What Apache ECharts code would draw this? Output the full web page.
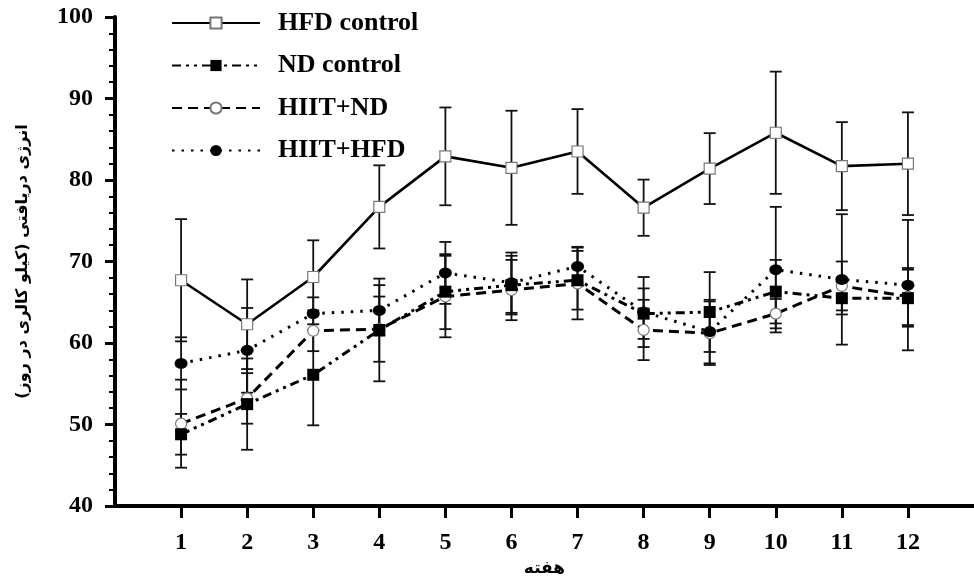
<!DOCTYPE html>
<html><head><meta charset="utf-8">
<script src="https://cdn.jsdelivr.net/npm/echarts@6/dist/echarts.min.js"></script>
<style>html,body{margin:0;padding:0;background:#fff}#c{width:974px;height:583px}</style>
</head><body><div id="c"></div>
<script>
const weeks = ['1','2','3','4','5','6','7','8','9','10','11','12'];
const yTicks = [40,50,60,70,80,90,100];
const seriesNames = ['HFD control','ND control','HIIT+ND','HIIT+HFD'];
const hfdMean = [67.7,62.3,68.1,76.7,82.9,81.5,83.5,76.6,81.4,85.8,81.7,82.0];
const hfdSd   = [7.5,5.5,4.5,5.1,6.0,7.0,5.2,3.45,4.35,7.5,5.4,6.3];
const ndMean  = [48.8,52.5,56.1,61.6,66.3,67.1,67.7,63.6,63.8,66.3,65.5,65.5];
const ndSd    = [2.5,5.6,6.2,6.3,4.6,3.6,3.6,3.1,4.9,3.9,2.0,3.5];
const hndMean = [50.1,53.2,61.5,61.7,65.7,66.5,67.3,61.6,61.2,63.6,67.0,65.7];
const hndSd   = [5.4,3.1,2.5,4.0,5.0,3.7,4.4,3.7,3.9,1.8,3.0,3.5];
const hhfMean = [57.5,59.1,63.6,64.0,68.6,67.4,69.4,63.8,61.4,69.0,67.8,67.1];
const hhfSd   = [3.2,5.2,2.0,3.1,3.8,3.7,2.4,4.3,3.9,7.7,8.0,8.0];
const yTitle = 'انرژی دریافتی (کیلو کالری در روز)';
const xTitle = 'هفته';

const axisCats = [''].concat(weeks).concat([' ']);
const toPts = arr => arr.map((v,i)=>[i+1, v]);
const toErr = (m,s) => m.map((v,i)=>[i+1, v - s[i], v + s[i]]);

function errSeries(m, s, z){
  return {
    type:'custom', silent:true, z:z,
    data: toErr(m,s),
    renderItem: function(params, api){
      const x = api.value(0);
      const lo = api.coord([x, api.value(1)]);
      const hi = api.coord([x, api.value(2)]);
      const w = 6;
      const st = {stroke:'#111', lineWidth:1.8};
      return {type:'group', children:[
        {type:'line', shape:{x1:lo[0],y1:lo[1],x2:hi[0],y2:hi[1]}, style:st},
        {type:'line', shape:{x1:lo[0]-w,y1:lo[1],x2:lo[0]+w,y2:lo[1]}, style:st},
        {type:'line', shape:{x1:hi[0]-w,y1:hi[1],x2:hi[0]+w,y2:hi[1]}, style:st}
      ]};
    }
  };
}

const chart = echarts.init(document.getElementById('c'), null, {renderer:'canvas'});
const serif = 'Liberation Serif, Times New Roman, serif';
chart.setOption({
  animation:false,
  backgroundColor:'#fff',
  grid:{left:115, right:0, top:17, bottom:77, containLabel:false},
  legend:{
    orient:'vertical', left:166, top:5,
    itemWidth:88, itemHeight:14, itemGap:16.5,
    data: seriesNames,
    textStyle:{fontFamily:serif, fontWeight:'bold', fontSize:26, color:'#000', padding:[0,0,0,13]}
  },
  xAxis:{
    type:'category', boundaryGap:false, data:axisCats,
    name:xTitle, nameLocation:'middle', nameGap:52,
    nameTextStyle:{fontFamily:'DejaVu Sans', fontWeight:'bold', fontSize:17, color:'#000'},
    axisLine:{lineStyle:{color:'#000', width:4}},
    axisTick:{show:true, length:12, lineStyle:{color:'#000', width:3},
      interval:function(i){return i>0 && i<axisCats.length-1;}},
    axisLabel:{margin:25, fontFamily:serif, fontWeight:'bold', fontSize:24, color:'#000',
      interval:function(i){return i>0 && i<axisCats.length-1;}},
    splitLine:{show:false}
  },
  yAxis:{
    type:'value', min:yTicks[0], max:yTicks[yTicks.length-1], interval:10,
    name:yTitle, nameLocation:'middle', nameRotate:90, nameGap:84,
    nameTextStyle:{fontFamily:'DejaVu Sans', fontWeight:'bold', fontSize:16, color:'#000'},
    axisLine:{show:true, lineStyle:{color:'#000', width:4}},
    axisTick:{show:true, length:10, lineStyle:{color:'#000', width:3}},
    minorTick:{show:true, splitNumber:5, length:6, lineStyle:{color:'#000', width:2}},
    axisLabel:{margin:22, fontFamily:serif, fontWeight:'bold', fontSize:24, color:'#000'},
    splitLine:{show:false}
  },
  series:[
    errSeries(hfdMean,hfdSd,1), errSeries(ndMean,ndSd,1), errSeries(hndMean,hndSd,1), errSeries(hhfMean,hhfSd,1),
    {name:seriesNames[0], type:'line', data:toPts(hfdMean), z:5,
      symbol:'rect', symbolSize:11,
      lineStyle:{color:'#000', width:2.6, type:'solid'},
      itemStyle:{color:'#fff', borderColor:'#777', borderWidth:1.2}},
    {name:seriesNames[1], type:'line', data:toPts(ndMean), z:6,
      symbol:'rect', symbolSize:12,
      lineStyle:{color:'#000', width:3, type:[9,5,3,5,3,5]},
      itemStyle:{color:'#000', borderColor:'#000', borderWidth:0}},
    {name:seriesNames[2], type:'line', data:toPts(hndMean), z:4,
      symbol:'circle', symbolSize:11,
      lineStyle:{color:'#000', width:3, type:[10,6]},
      itemStyle:{color:'#fff', borderColor:'#777', borderWidth:1.2}},
    {name:seriesNames[3], type:'line', data:toPts(hhfMean), z:7,
      symbol:'circle', symbolSize:[13,11],
      lineStyle:{color:'#000', width:3, type:[2.5,7]},
      itemStyle:{color:'#000', borderColor:'#000', borderWidth:0}}
  ]
});
</script></body></html>
